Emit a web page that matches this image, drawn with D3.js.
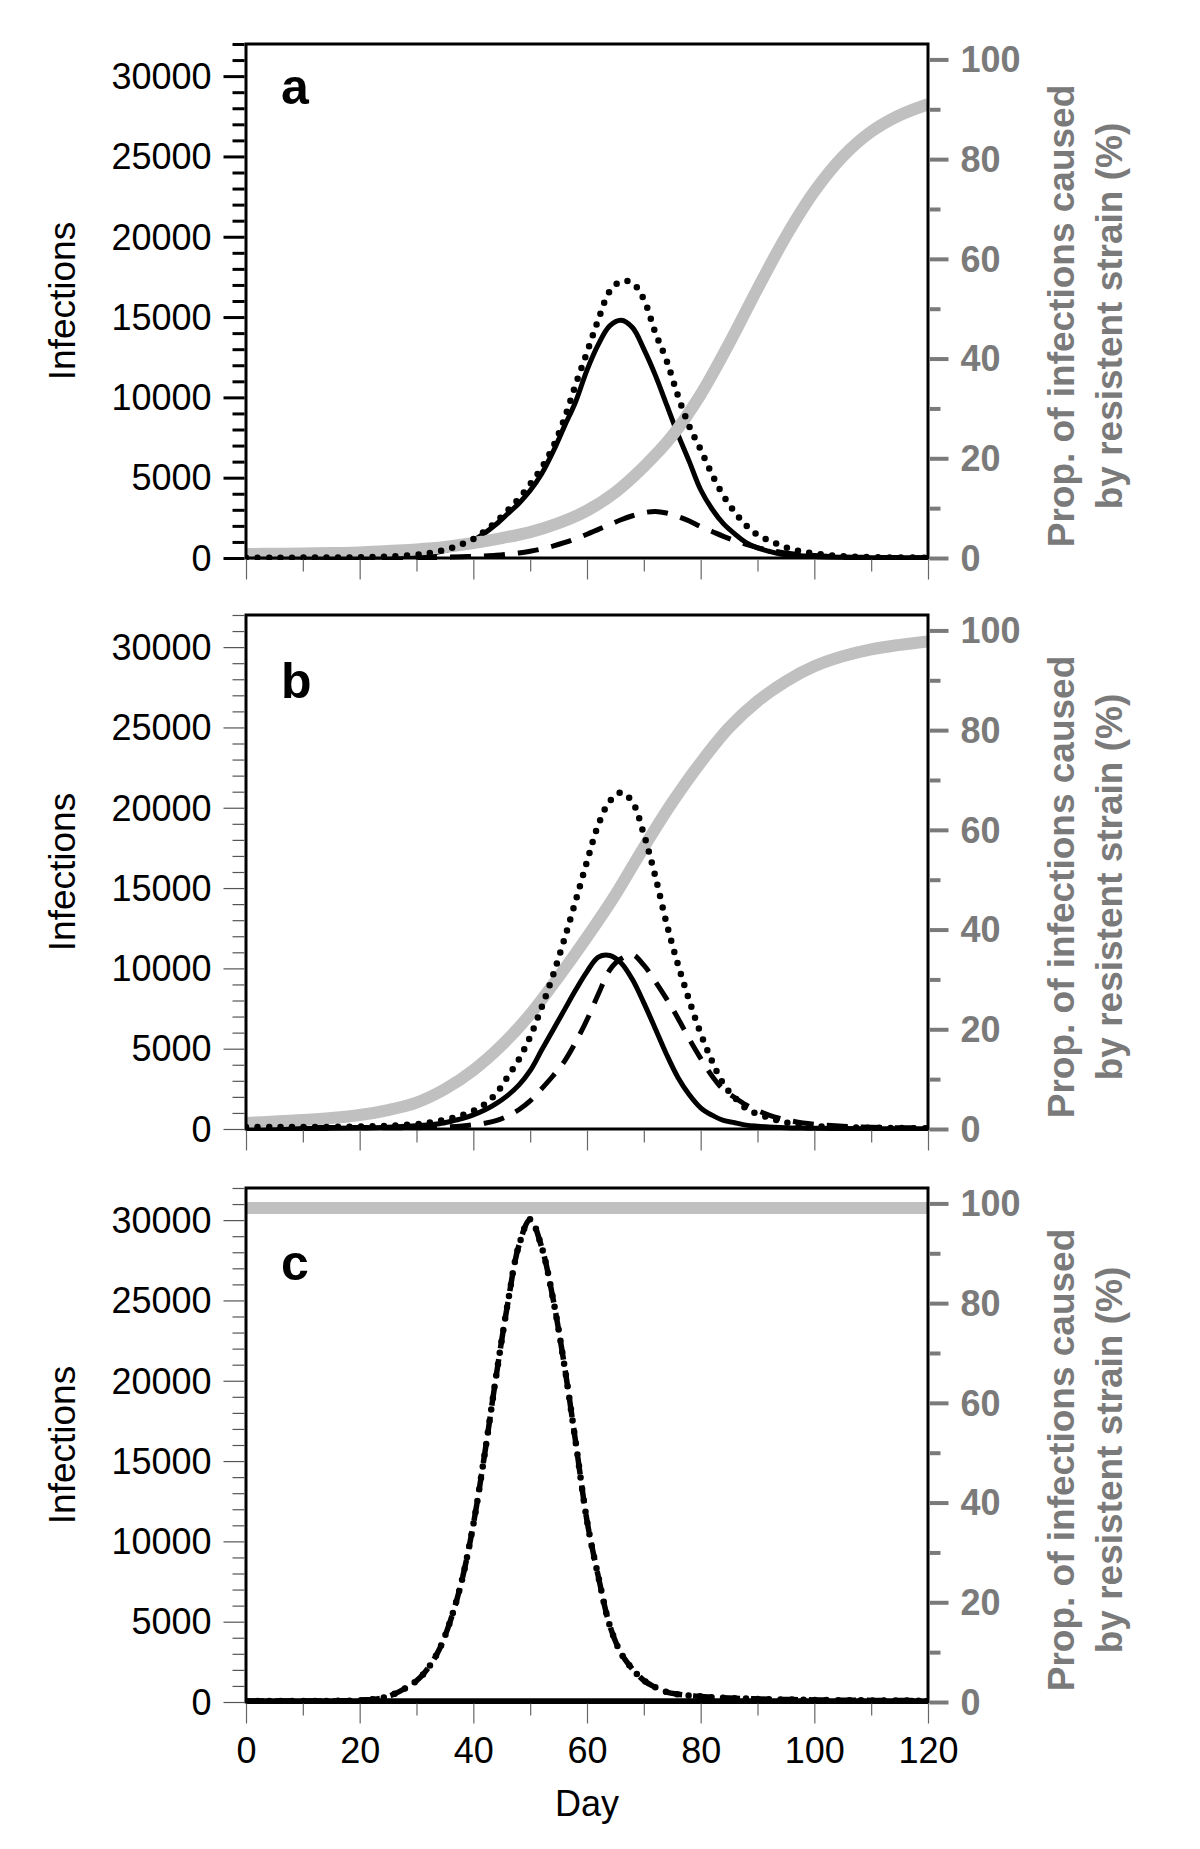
<!DOCTYPE html>
<html><head><meta charset="utf-8">
<script src="https://cdn.jsdelivr.net/npm/d3@7"></script>
<style>
body{margin:0;background:#fff;}
svg{display:block;font-family:"Liberation Sans",Arial,Helvetica,sans-serif;}
</style></head><body>
<svg id="chart" width="1200" height="1849"></svg>
<script>
// ---------- DATA ----------
const days = [0,5,10,15,20,25,30,32,34,36,38,40,42,44,46,48,50,52,54,56,58,60,62,64,66,68,70,72,74,76,78,80,82,84,86,88,90,92,94,96,98,100,105,110,115,120];
const pctDays = [0,5,10,15,20,25,30,35,40,45,50,55,60,65,70,75,80,85,90,95,100,105,110,115,120];

// Panel a
const aSolid  = [10,10,15,20,30,70,180,260,380,560,800,1100,1550,2100,2740,3400,4200,5230,6600,8180,9730,11700,13300,14450,14800,14350,13000,11400,9550,7700,6000,4250,3050,2140,1500,960,630,420,250,180,130,90,40,20,10,10];
const aDotted = [20,20,25,30,45,85,200,290,420,610,870,1180,1660,2250,2950,3700,4600,5600,6900,8650,10800,12800,14850,16600,17220,17120,16100,14050,12300,10100,8200,6750,5200,3880,2860,2030,1450,1100,800,550,400,280,110,50,30,20];
const aDashed = [5,5,5,5,10,15,25,30,40,55,75,100,130,170,230,310,420,560,740,950,1200,1480,1780,2080,2380,2630,2820,2900,2800,2580,2300,1950,1650,1350,1080,850,650,490,360,270,200,150,70,40,25,20];
const aPct    = [0.8,0.85,0.9,1.0,1.1,1.4,1.7,2.2,3.0,4.0,5.2,7.0,9.5,13.2,18.3,24.5,32.8,43.0,54.0,64.5,73.5,80.5,85.5,88.8,91.0];

// Panel b
const bSolid  = [30,30,30,40,60,110,200,250,330,470,640,880,1180,1580,2080,2730,3630,4900,6150,7400,8650,9800,10700,10800,10340,9300,7850,6260,4640,3210,2130,1320,860,530,390,240,170,120,90,70,55,45,30,20,15,10];
const bDotted = [120,120,120,130,150,200,300,380,500,650,860,1130,1550,2200,3230,4330,5750,7550,9550,11800,14200,16650,18950,20400,20950,20350,18350,15750,12800,10250,8000,5950,4230,2800,1950,1280,940,710,490,340,250,180,110,80,60,50];
const bDashed = [100,100,100,100,90,80,80,90,110,140,190,260,360,520,800,1200,1750,2500,3300,4200,5400,6800,8400,9900,10600,10850,10200,9200,8100,6900,5600,4400,3300,2450,1950,1500,1150,870,660,500,380,300,170,110,80,60];
const bPct    = [1.2,1.5,1.8,2.2,2.8,3.8,5.3,8.0,11.8,16.8,23.0,30.5,38.5,47.0,56.5,65.5,73.5,80.5,85.8,89.8,92.8,94.8,96.2,97.1,97.8];

// Panel c
const cSolid  = [50,50,50,50,50,50,50,50,50,50,50,50,50,50,50,50,50,50,50,50,50,50,50,50,50,50,50,50,50,50,50,50,50,50,50,50,50,50,50,50,50,50,50,50,50,50];
const cDotted = [60,60,60,70,110,350,1320,2090,3270,5100,7600,11050,15450,20250,24700,28400,30050,28350,25150,21000,16200,11280,7800,4770,3030,2050,1340,920,620,480,400,350,300,270,240,210,190,170,160,150,140,130,110,100,90,80];
const cDashed = [60,60,60,70,110,350,1320,2090,3270,5100,7600,11050,15450,20250,24700,28400,30050,28350,25150,21000,16200,11280,7800,4770,3030,2050,1340,920,620,480,400,350,300,270,240,210,190,170,160,150,140,130,110,100,90,80];
const cPct    = [99.1,99.1,99.1,99.1,99.1,99.1,99.1,99.1,99.1,99.1,99.1,99.1,99.1,99.1,99.1,99.1,99.1,99.1,99.1,99.1,99.1,99.1,99.1,99.1,99.1];

const panelLetters = ["a","b","c"];
const leftMajor = [0,5000,10000,15000,20000,25000,30000];
const rightMajor = [0,20,40,60,80,100];
const dayTicks = [0,20,40,60,80,100,120];
const leftTitle = "Infections";
const rightTitle = ["Prop. of infections caused","by resistent strain (%)"];
const xTitle = "Day";

// ---------- LAYOUT ----------
const X0 = 246, X1 = 928, PH = 514;
const panels = [
  {top:44,   solid:aSolid, dotted:aDotted, dashed:aDashed, pct:aPct, letterY:104,  tickColor:"#000", tickW:3},
  {top:615,  solid:bSolid, dotted:bDotted, dashed:bDashed, pct:bPct, letterY:698,  tickColor:"#555", tickW:1.2},
  {top:1188, solid:cSolid, dotted:cDotted, dashed:cDashed, pct:cPct, letterY:1280, tickColor:"#555", tickW:1.2}
];
const GRAY_LINE = "#c0c0c0";
const GRAY_AXIS = "#7a7a7a";
const FONT = '"Liberation Sans",Arial,Helvetica,sans-serif';

const svg = d3.select("#chart");
const x = d3.scaleLinear().domain([0,120]).range([X0,X1]);
const defs = svg.append("defs");

panels.forEach((p,i)=>{
  const bottom = p.top + PH;
  const y  = d3.scaleLinear().domain([0,32000]).range([bottom,p.top]);
  const yr = d3.scaleLinear().domain([0,32000/310.4]).range([bottom,p.top]);
  const g = svg.append("g");

  defs.append("clipPath").attr("id","clip"+i).append("rect")
    .attr("x",X0).attr("y",p.top).attr("width",X1-X0).attr("height",PH+2);
  const lg = g.append("g").attr("clip-path",`url(#clip${i})`);

  const line = d3.line().x((d,j)=>x(days[j])).y(d=>y(d)).curve(d3.curveCatmullRom.alpha(0.5));
  const pline = d3.line().x((d,j)=>x(pctDays[j])).y(d=>yr(d)).curve(d3.curveCatmullRom.alpha(0.5));

  lg.append("path").attr("d",line(p.dashed)).attr("fill","none").attr("stroke","#000")
    .attr("stroke-width",i===2?5.5:5).attr("stroke-dasharray",i===2?"18,11":"21,13");
  lg.append("path").attr("d",line(p.solid)).attr("fill","none").attr("stroke","#000")
    .attr("stroke-width",i===2?6:5);
  lg.append("path").attr("d",pline(p.pct)).attr("fill","none").attr("stroke",GRAY_LINE)
    .attr("stroke-width",12);
  lg.append("path").attr("d",line(p.dotted)).attr("fill","none").attr("stroke","#000")
    .attr("stroke-width",6.5).attr("stroke-linecap","round").attr("stroke-dasharray","0,11.5");

  // frame
  g.append("rect").attr("x",X0).attr("y",p.top).attr("width",X1-X0).attr("height",PH)
    .attr("fill","none").attr("stroke","#000").attr("stroke-width",3);

  // left axis
  const la = g.append("g").attr("transform",`translate(${X0-1.5},0)`)
    .call(d3.axisLeft(y).tickValues(leftMajor).tickSize(21).tickPadding(12).tickFormat(d3.format("d")));
  const lm = g.append("g").attr("transform",`translate(${X0-1.5},0)`)
    .call(d3.axisLeft(y).tickValues(d3.range(0,32001,1000).filter(v=>v%5000!==0)).tickSize(12).tickFormat(""));
  [la,lm].forEach(a=>{
    a.select(".domain").remove();
    a.selectAll(".tick line").attr("stroke",p.tickColor).attr("stroke-width",p.tickW);
  });
  la.selectAll(".tick text").attr("font-size",36).attr("font-family",FONT).attr("fill","#000").attr("dy","0.34em");

  // right axis
  const ra = g.append("g").attr("transform",`translate(${X1+1.5},0)`)
    .call(d3.axisRight(yr).tickValues(rightMajor).tickSize(19).tickPadding(12).tickFormat(d3.format("d")));
  const rm = g.append("g").attr("transform",`translate(${X1+1.5},0)`)
    .call(d3.axisRight(yr).tickValues([10,30,50,70,90]).tickSize(11).tickFormat(""));
  [ra,rm].forEach(a=>{
    a.select(".domain").remove();
    a.selectAll(".tick line").attr("stroke",GRAY_AXIS).attr("stroke-width",4);
  });
  ra.selectAll(".tick text").attr("font-size",36).attr("font-weight","bold").attr("font-family",FONT)
    .attr("fill",GRAY_AXIS).attr("dy","0.34em");

  // bottom axis
  const ba = g.append("g").attr("transform",`translate(0,${bottom+1.5})`)
    .call(d3.axisBottom(x).tickValues(dayTicks).tickSize(20).tickFormat(i===2?d3.format("d"):""));
  const bm = g.append("g").attr("transform",`translate(0,${bottom+1.5})`)
    .call(d3.axisBottom(x).tickValues([10,30,50,70,90,110]).tickSize(12).tickFormat(""));
  [ba,bm].forEach(a=>{
    a.select(".domain").remove();
    a.selectAll(".tick line").attr("stroke","#666").attr("stroke-width",1.2);
  });
  ba.selectAll(".tick text").attr("font-size",36).attr("font-family",FONT).attr("fill","#000")
    .attr("y",59).attr("dy",0);

  // panel letter
  g.append("text").attr("x",281).attr("y",p.letterY).text(panelLetters[i])
    .attr("font-size",50).attr("font-weight","bold").attr("font-family",FONT).attr("fill","#000");

  // left title
  g.append("text").attr("transform",`translate(75,${p.top+257}) rotate(-90)`)
    .attr("text-anchor","middle").attr("font-size",37).attr("font-family",FONT).attr("fill","#000")
    .text(leftTitle);

  // right title
  g.append("text").attr("transform",`translate(1074,${p.top+272}) rotate(-90)`)
    .attr("text-anchor","middle").attr("font-size",37).attr("font-weight","bold").attr("font-family",FONT)
    .attr("fill",GRAY_AXIS).text(rightTitle[0]);
  g.append("text").attr("transform",`translate(1122,${p.top+272}) rotate(-90)`)
    .attr("text-anchor","middle").attr("font-size",37).attr("font-weight","bold").attr("font-family",FONT)
    .attr("fill",GRAY_AXIS).text(rightTitle[1]);
});

svg.append("text").attr("x",x(60)).attr("y",1816).attr("text-anchor","middle")
  .attr("font-size",36).attr("font-family",FONT).attr("fill","#000").text(xTitle);
</script>
</body></html>
